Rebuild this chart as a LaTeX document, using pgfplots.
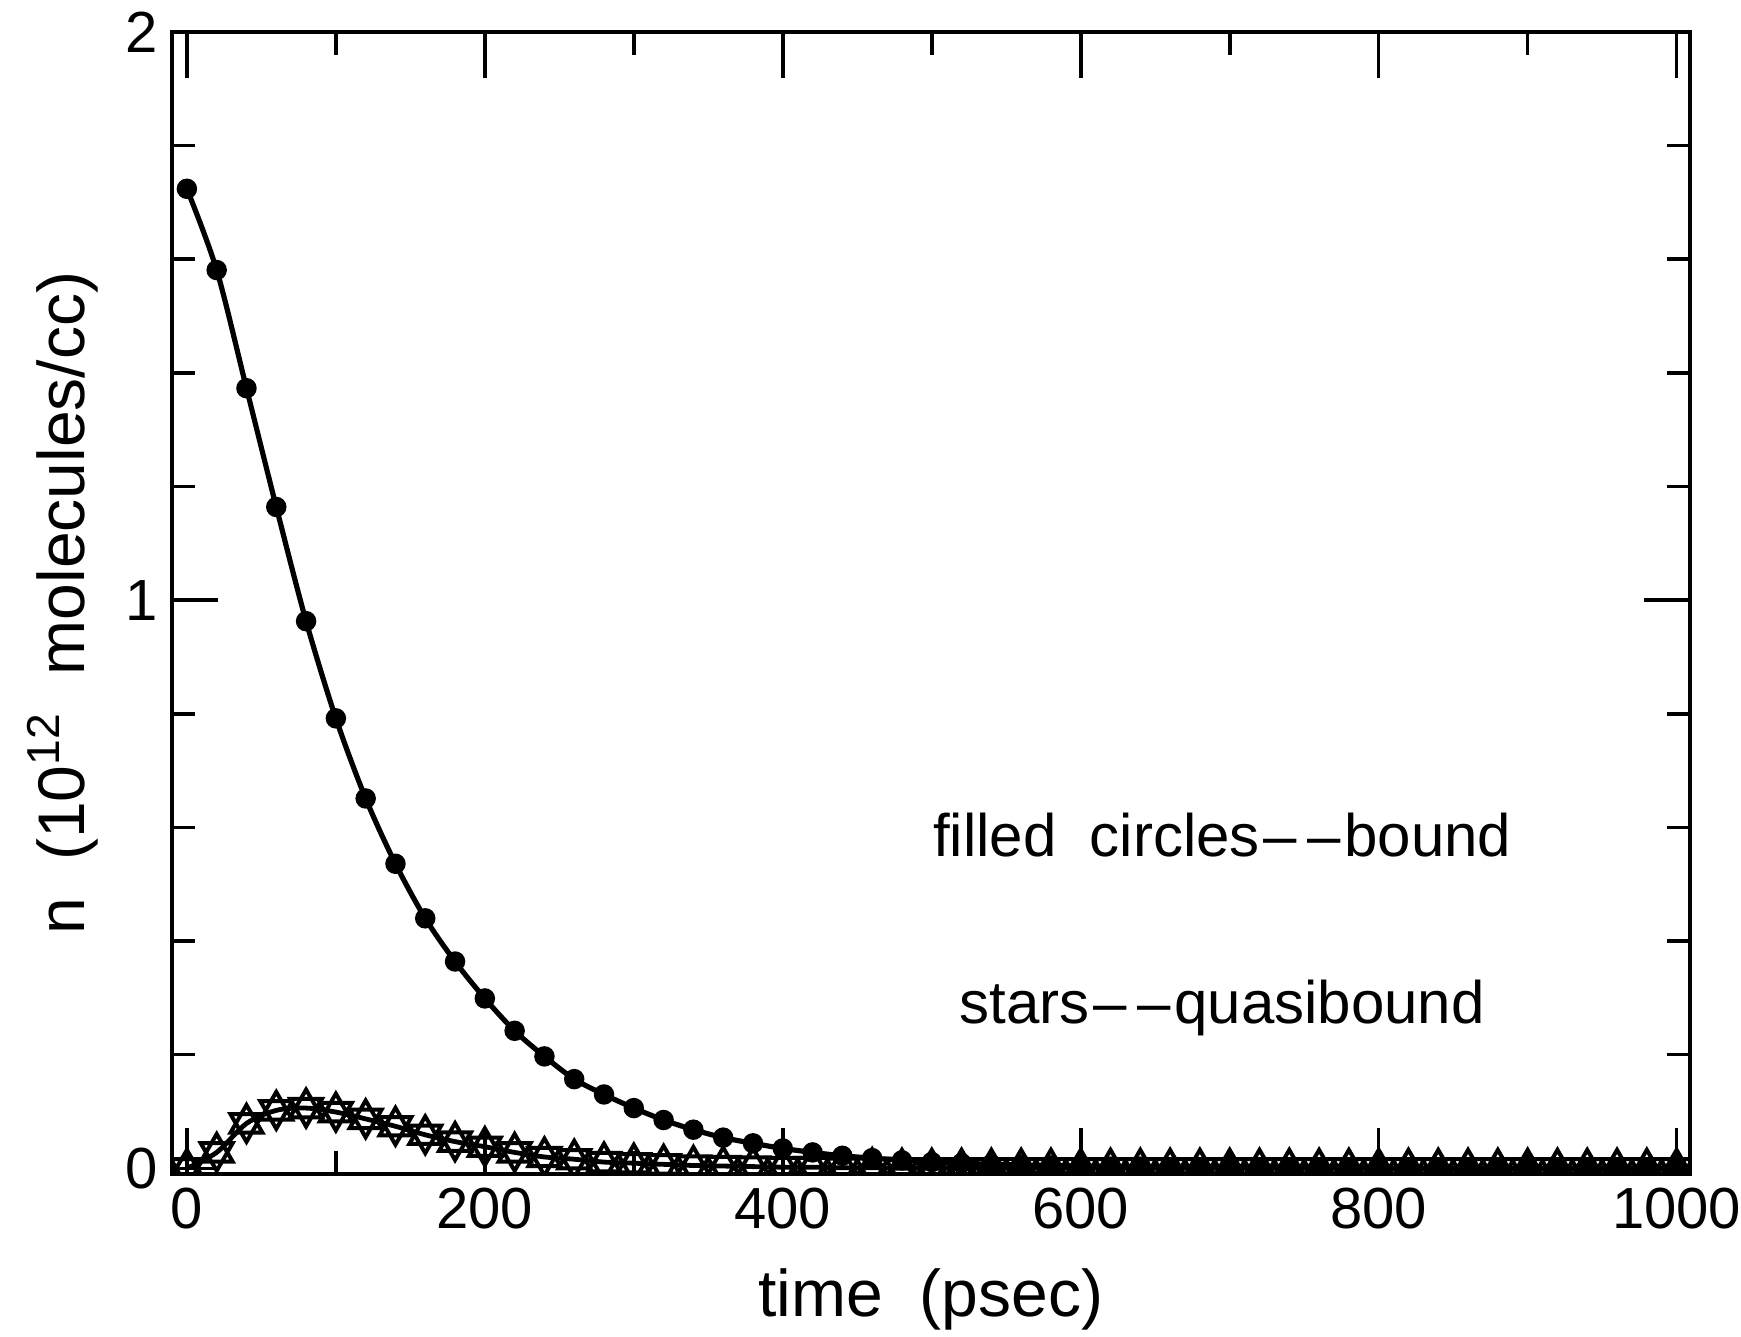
\documentclass[border=0pt]{standalone}
\usepackage{fontspec}
\setmainfont{Liberation Sans}
\usepackage{pgfplots}
\pgfplotsset{compat=1.18}

% star of David: two overlaid triangles
\pgfdeclareplotmark{david}{%
  \pgfpathmoveto{\pgfqpoint{0pt}{\pgfplotmarksize}}%
  \pgfpathlineto{\pgfqpoint{0.866\pgfplotmarksize}{-0.5\pgfplotmarksize}}%
  \pgfpathlineto{\pgfqpoint{-0.866\pgfplotmarksize}{-0.5\pgfplotmarksize}}%
  \pgfpathclose
  \pgfpathmoveto{\pgfqpoint{0pt}{-\pgfplotmarksize}}%
  \pgfpathlineto{\pgfqpoint{0.866\pgfplotmarksize}{0.5\pgfplotmarksize}}%
  \pgfpathlineto{\pgfqpoint{-0.866\pgfplotmarksize}{0.5\pgfplotmarksize}}%
  \pgfpathclose
  \pgfusepathqstroke
}

\begin{document}
\begin{tikzpicture}
\begin{axis}[
  scale only axis,
  width=379.5pt, height=285.5pt,
  xmin=-10, xmax=1009,
  ymin=-0.01, ymax=2,
  xtick={0,200,...,1000},
  minor xtick={100,300,...,900},
  ytick={0,1,2},
  minor ytick={0.2,0.4,0.6,0.8,1.2,1.4,1.6,1.8},
  major tick length=11.5pt,
  minor tick length=5.75pt,
  tick align=inside,
  axis line style={line width=1.2pt},
  tick style={black, line width=0.9pt},
  tick label style={font=\fontsize{14.5}{16}\selectfont},
  /pgf/number format/assume math mode=true,
  /pgf/number format/1000 sep={},
  xlabel={time\ \ (psec)},
  ylabel={n\ \ (10\textsuperscript{12}\ \ molecules/cc)},
  label style={font=\fontsize{16.5}{19}\selectfont},
  xlabel style={yshift=-3pt},
  clip marker paths=true,
]
% bound (filled circles)
\addplot[black, line width=1.3pt, smooth, mark=*, mark size=1.9pt]
coordinates {
(0,1.724)(20,1.581)(40,1.373)(60,1.164)(80,0.963)(100,0.792)
(120,0.651)(140,0.536)(160,0.440)(180,0.364)(200,0.299)(220,0.242)
(240,0.197)(260,0.157)(280,0.130)(300,0.106)(320,0.085)(340,0.068)
(360,0.054)(380,0.044)(400,0.035)(420,0.028)(440,0.022)(460,0.018)
(480,0.014)(500,0.011)(520,0.009)(540,0.007)(560,0.006)(580,0.005)
(600,0.004)(620,0.003)(640,0.003)(660,0.002)(680,0.002)(700,0.001)
(720,0.001)(740,0.001)(760,0.001)(780,0.001)(800,0.000)(820,0.000)
(840,0.000)(860,0.000)(880,0.000)(900,0.000)(920,0.000)(940,0.000)
(960,0.000)(980,0.000)(1000,0.000)
};
% quasibound (stars)
\addplot[black, line width=1.2pt, smooth, mark=david, mark size=4.6pt,
  mark options={line width=1pt, fill=none}]
coordinates {
(0,0.000)(20,0.028)(40,0.079)(60,0.102)(80,0.106)(100,0.099)
(120,0.087)(140,0.074)(160,0.059)(180,0.047)(200,0.038)(220,0.028)
(240,0.020)(260,0.016)(280,0.011)(300,0.009)(320,0.007)(340,0.005)
(360,0.004)(380,0.003)(400,0.002)(420,0.002)(440,0.001)(460,0.001)
(480,0.000)(500,0.000)(520,0.000)(540,0.000)(560,0.000)(580,0.000)
(600,0.000)(620,0.000)(640,0.000)(660,0.000)(680,0.000)(700,0.000)
(720,0.000)(740,0.000)(760,0.000)(780,0.000)(800,0.000)(820,0.000)
(840,0.000)(860,0.000)(880,0.000)(900,0.000)(920,0.000)(940,0.000)
(960,0.000)(980,0.000)(1000,0.000)
};
\node[font=\fontsize{15}{17}\selectfont] at (axis cs:695,0.586)
  {filled\ \ circles\kern1pt\textendash\kern2.5pt\textendash\kern1pt bound};
\node[font=\fontsize{15}{17}\selectfont] at (axis cs:695,0.283)
  {stars\kern1pt\textendash\kern2.5pt\textendash\kern1pt quasibound};
\coordinate (sw) at (rel axis cs:0,0);
\coordinate (ne) at (rel axis cs:1,1);
\end{axis}
\pgfresetboundingbox
\path[use as bounding box] ([xshift=-43pt,yshift=-40.5pt]sw) rectangle ([xshift=12.75pt,yshift=8pt]ne);
\end{tikzpicture}
\end{document}
